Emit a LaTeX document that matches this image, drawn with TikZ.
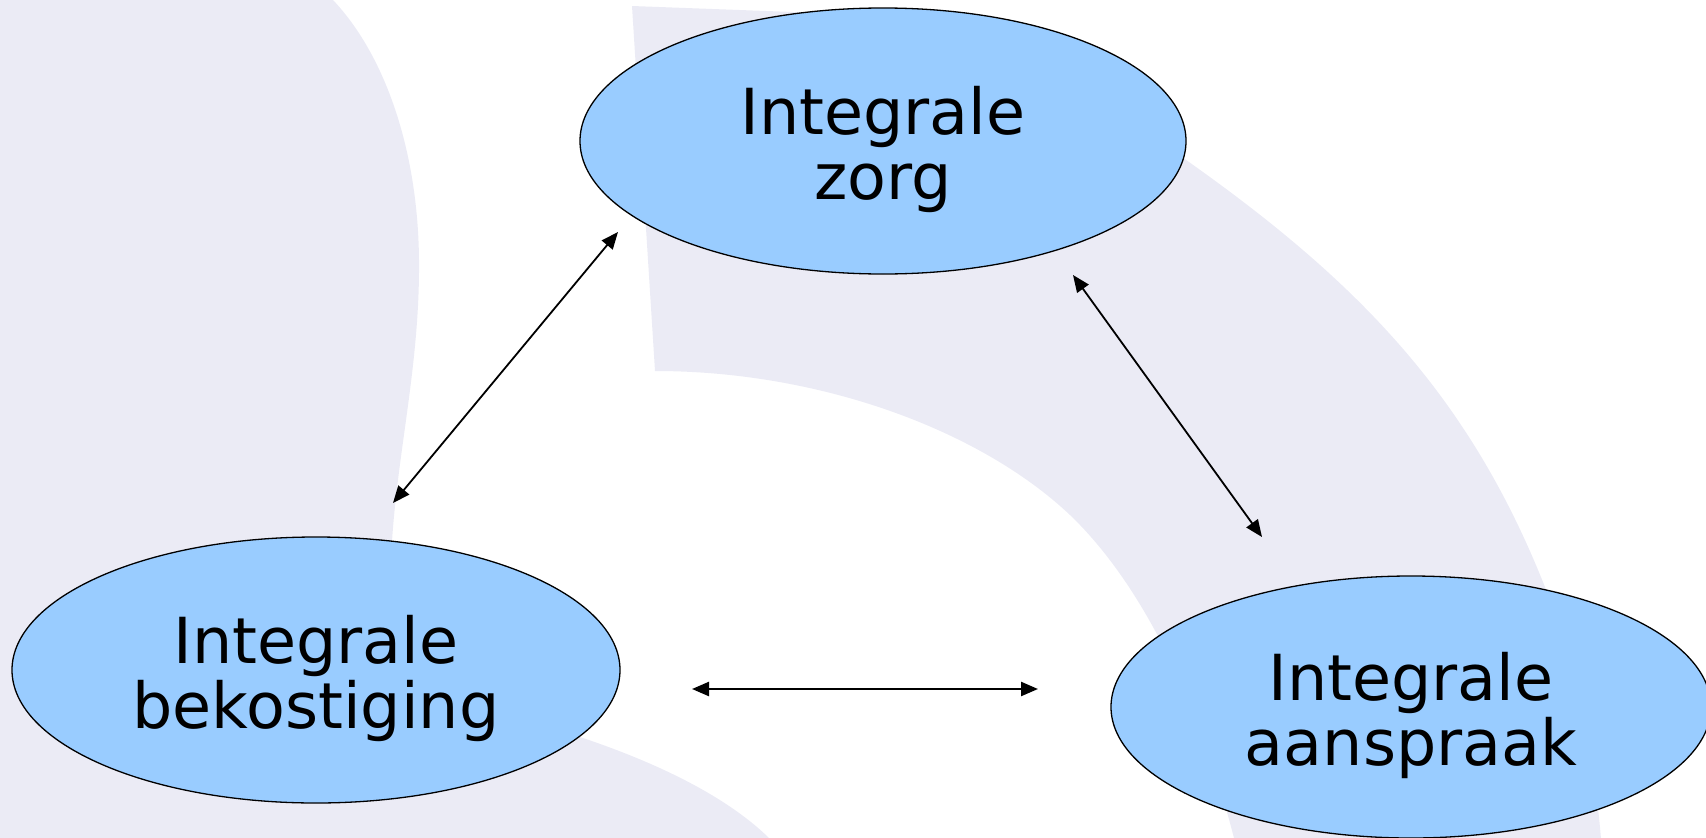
\documentclass[tikz,border=0pt]{standalone}
\usepackage{fontspec}
\setmainfont{DejaVu Sans}
\usetikzlibrary{shapes.geometric,arrows.meta}
\definecolor{lav}{RGB}{235,235,245}
\definecolor{ellblue}{RGB}{153,204,255}
\begin{document}
\begin{tikzpicture}[x=1pt,y=-1pt,
  ell/.style={ellipse, draw=black, line width=1.3pt, fill=ellblue, inner sep=0pt},
  lbl/.style={align=center, font=\fontsize{63.5}{65}\selectfont, inner sep=0pt},
  biarrow/.style={{Triangle[length=17pt,width=14pt]}-{Triangle[length=17pt,width=14pt]}, line width=1.8pt}]
\useasboundingbox (0,0) rectangle (1706,838);
\begin{scope}
\clip (0,0) rectangle (1706,838);
% left background shape
\fill[lav] (0,-10) -- (333,-10) -- (333,0)
  .. controls (385,55) and (418,150) .. (419,260)
  .. controls (420,370) and (395,460) .. (391,560)
  .. controls (388,650) and (500,705) .. (580,737)
  .. controls (640,757) and (720,790) .. (769,838)
  -- (800,870) -- (0,870) -- cycle;
% arc band background shape
\fill[lav] (632,6) -- (793,12)
  .. controls (950,20) and (1050,70) .. (1150,135)
  .. controls (1350,271) and (1470,390) .. (1550,600)
  .. controls (1580,690) and (1598,770) .. (1603,870)
  -- (1240,870) -- (1237,850)
  .. controls (1200,700) and (1140,582) .. (1070,515)
  .. controls (980,430) and (820,371) .. (655,371)
  -- cycle;
\end{scope}
\coordinate (a1) at (393,503);
\coordinate (a2) at (618,232);
\coordinate (b1) at (1073,275);
\coordinate (b2) at (1262,537);
\coordinate (c1) at (692,689);
\coordinate (c2) at (1038,689);
\draw[biarrow] (a1) -- (a2);
\draw[biarrow] (b1) -- (b2);
\draw[biarrow, line width=2.4pt] (c1) -- (c2);
\node[ell, minimum width=606pt, minimum height=266pt] (zorg) at (883,141) {};
\node[ell, minimum width=608pt, minimum height=266pt] (bek) at (316,670) {};
\node[ell, minimum width=600pt, minimum height=262pt] (aan) at (1411,707) {};
\node[lbl] (tzorg) at (883,149) {Integrale\\zorg};
\node[lbl] (tbek) at (316,678) {Integrale\\bekostiging};
\node[lbl] (taan) at (1411,715.5) {Integrale\\aanspraak};
\end{tikzpicture}
\end{document}
